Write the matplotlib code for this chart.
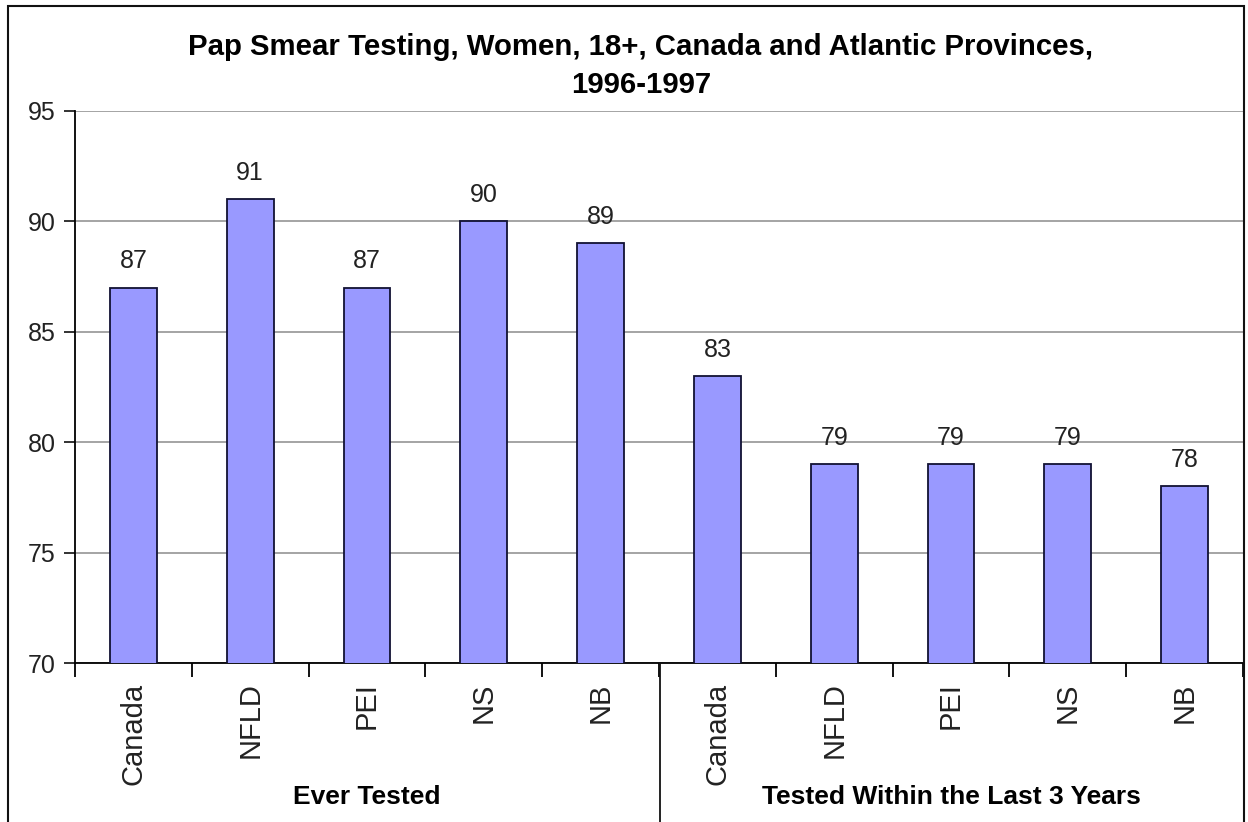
import numpy as np
import matplotlib.pyplot as plt
from matplotlib.patches import Rectangle
from matplotlib.lines import Line2D

plt.rcParams['font.family'] = ['Liberation Sans', 'DejaVu Sans']

provinces = ['Canada', 'NFLD', 'PEI', 'NS', 'NB']
groups = ['Ever Tested', 'Tested Within the Last 3 Years']
ever_tested = [87, 91, 87, 90, 89]
last_3_years = [83, 79, 79, 79, 78]
yticks = [70, 75, 80, 85, 90, 95]

labels = provinces + provinces
values = ever_tested + last_3_years
x = np.arange(len(values))

fig = plt.figure(figsize=(12.48, 8.22), dpi=100)
ax = fig.add_axes([75/1248, 1 - 663/822, 1168/1248, 552/822])

ax.bar(x, values, width=0.40, color='#9999ff', edgecolor='#111133', linewidth=1.3, zorder=3)
for xi, v in zip(x, values):
    ax.text(xi, v + 0.65, str(v), ha='center', va='bottom', fontsize=18, color='#222222')

ax.set_xlim(-0.5, len(values) - 0.5)
ax.set_ylim(70, 95)
ax.set_yticks(yticks)
ax.yaxis.grid(True, color='#8c8c8c', linewidth=1.1, zorder=0)
ax.tick_params(axis='y', direction='out', length=8, width=1.3, labelsize=18, pad=6, colors='#222222')

# category boundaries as ticks, labels in minor positions
ax.set_xticks(np.arange(-0.5, len(values), 1.0))
ax.set_xticklabels([])
ax.tick_params(axis='x', which='major', direction='out', length=10, width=1.3)
ax.set_xticks(x, minor=True)
ax.set_xticklabels(labels, minor=True, rotation=90, fontsize=21, va='top', ha='center')
ax.tick_params(axis='x', which='minor', length=0, pad=14, colors='#222222')

for side in ['top', 'right']:
    ax.spines[side].set_visible(False)
ax.spines['left'].set_linewidth(1.3)
ax.spines['bottom'].set_linewidth(1.3)

# group separator and group labels
fig.add_artist(Line2D([660/1248, 660/1248], [0, 1 - 663/822], color='#111111', linewidth=1.3))
fig.text(367/1248, 1 - 797/822, groups[0], ha='center', va='center', fontsize=19, fontweight='bold')
fig.text(951/1248, 1 - 797/822, groups[1], ha='center', va='center', fontsize=19, fontweight='bold')

fig.text(641/1248, 1 - 47/822, 'Pap Smear Testing, Women, 18+, Canada and Atlantic Provinces,',
         ha='center', va='center', fontsize=21.2, fontweight='bold')
fig.text(641/1248, 1 - 85/822, '1996-1997', ha='center', va='center', fontsize=21.2, fontweight='bold')

# chart border
fig.add_artist(Rectangle((8/1248, -0.1), 1236/1248, 1.1 - 6/822, fill=False,
                         edgecolor='#111111', linewidth=1.5, transform=fig.transFigure))

fig.savefig('out.png', dpi=100)
